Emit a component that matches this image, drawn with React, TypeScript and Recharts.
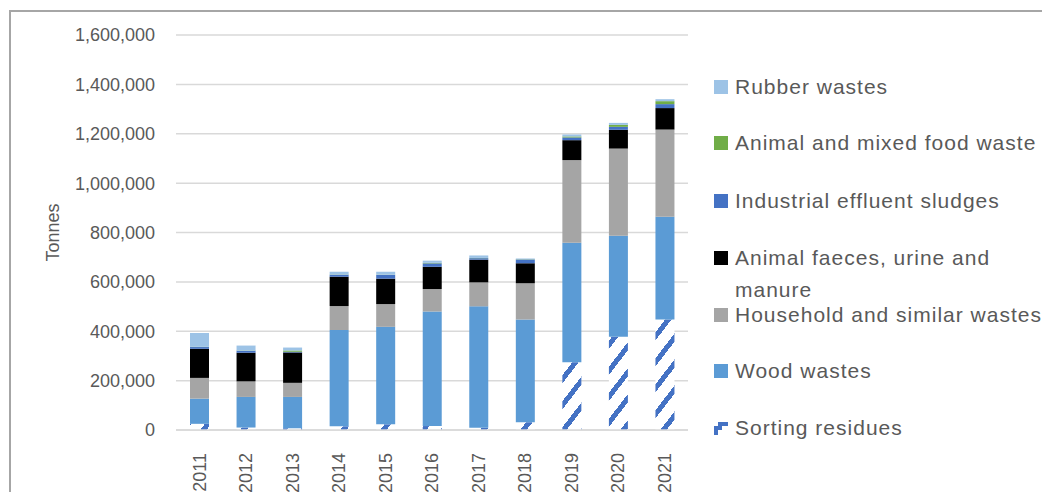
import React from 'react';
import { BarChart, Bar, XAxis, YAxis, CartesianGrid, Label } from 'recharts';

const years = ['2011', '2012', '2013', '2014', '2015', '2016', '2017', '2018', '2019', '2020', '2021'];

// tonnes, stacked bottom to top
const sortingResidues = [25000, 10000, 7000, 15000, 23000, 16000, 9000, 31000, 274000, 378000, 448000];
const woodWastes = [102000, 124000, 127000, 390000, 395000, 464000, 492000, 417000, 484000, 409000, 416000];
const householdWastes = [84000, 63000, 57000, 97000, 92000, 91000, 97000, 146000, 335000, 353000, 353000];
const animalFaeces = [118000, 116000, 123000, 119000, 103000, 90000, 92000, 81000, 81000, 76000, 87000];
const industrialSludges = [7000, 8000, 3000, 8000, 15000, 14000, 6000, 16000, 11000, 12000, 16000];
const animalFoodWaste = [1000, 1000, 5000, 1000, 1000, 2000, 1000, 1000, 4000, 8000, 12000];
const rubberWastes = [56000, 20000, 12000, 11000, 12000, 9000, 10000, 3000, 8000, 8000, 8000];

const yTicks = [0, 200000, 400000, 600000, 800000, 1000000, 1200000, 1400000, 1600000];

const series = [
  { key: 'sorting', name: 'Sorting residues', values: sortingResidues, color: 'url(#sortPat)' },
  { key: 'wood', name: 'Wood wastes', values: woodWastes, color: '#5b9bd5' },
  { key: 'household', name: 'Household and similar wastes', values: householdWastes, color: '#a5a5a5' },
  { key: 'faeces', name: 'Animal faeces, urine and manure', values: animalFaeces, color: '#000000' },
  { key: 'industrial', name: 'Industrial effluent sludges', values: industrialSludges, color: '#4472c4' },
  { key: 'food', name: 'Animal and mixed food waste', values: animalFoodWaste, color: '#70ad47' },
  { key: 'rubber', name: 'Rubber wastes', values: rubberWastes, color: '#9dc3e6' },
];

const data = years.map((year, i) => {
  const row: Record<string, string | number> = { year };
  series.forEach((s) => {
    row[s.key] = s.values[i];
  });
  return row;
});

const FONT = '"Liberation Sans", Arial, sans-serif';
const TEXT = '#595959';

const fmt = (v: number) => v.toLocaleString('en-US');

const YearTick = (props: any) => {
  const { x, y, payload } = props;
  return (
    <text
      x={0}
      y={0}
      transform={`translate(${x},${y + 15}) rotate(-90)`}
      textAnchor="end"
      dy="0.35em"
      fill={TEXT}
      fontSize={18}
      fontFamily={FONT}
    >
      {payload.value}
    </text>
  );
};

const TonnesLabel = (props: any) => {
  const { viewBox } = props;
  const cx = viewBox.x + 45;
  const cy = viewBox.y + viewBox.height / 2;
  return (
    <text
      x={0}
      y={0}
      transform={`translate(${cx},${cy}) rotate(-90)`}
      textAnchor="middle"
      dy="0.35em"
      fill={TEXT}
      fontSize={18}
      fontFamily={FONT}
    >
      Tonnes
    </text>
  );
};

// legend rows, top to bottom (page y centres)
const legendY = [87, 143, 201, 258, 315, 371, 428];

const LegendBox = () => {
  const items = [...series].reverse();
  return (
    <div style={{ position: 'absolute', left: 0, top: 0 }}>
      {items.map((s, i) => (
        <div
          key={s.key}
          style={{
            position: 'absolute',
            left: 706,
            top: legendY[i] - 8 - 16,
            display: 'flex',
            alignItems: 'flex-start',
          }}
        >
          <div style={{ width: 14, height: 14, marginTop: 9, marginRight: 7, flex: 'none' }}>
            {s.key === 'sorting' ? (
              <svg width={14} height={14}>
                <path d="M0,14 L0,5 L4,5 L4,1 L14,1 L14,5 L8,5 L8,9 L4,9 L4,14 Z" fill="#4472c4" />
              </svg>
            ) : (
              <div style={{ width: 14, height: 14, background: s.color }} />
            )}
          </div>
          <div
            style={{
              fontFamily: FONT,
              fontSize: 21,
              lineHeight: '32px',
              color: TEXT,
              letterSpacing: 1,
              whiteSpace: s.key === 'faeces' ? 'normal' : 'nowrap',
              width: s.key === 'faeces' ? 270 : undefined,
            }}
          >
            {s.name}
          </div>
        </div>
      ))}
    </div>
  );
};

export default function App() {
  return (
    <div style={{ position: 'relative', width: 1042, height: 484, overflow: 'hidden' }}>
      <div
        style={{
          position: 'absolute',
          left: 1,
          top: 2,
          width: 1200,
          height: 700,
          borderLeft: '2px solid #a6a6a6',
          borderTop: '2px solid #a6a6a6',
        }}
      />
      <div style={{ position: 'absolute', left: 0, top: 0 }}>
        <BarChart
          width={1042}
          height={484}
          data={data}
          margin={{ top: 27, right: 362, bottom: 0, left: 0 }}
          barSize={19}
          style={{ fontFamily: FONT }}
        >
          <defs>
            <pattern id="sortPat" patternUnits="userSpaceOnUse" width={20} height={26}>
              <rect width={20} height={26} fill="#ffffff" />
              <path
                d="M0,26 L20,0 M-5,6.5 L5,-6.5 M15,32.5 L25,19.5"
                stroke="#4472c4"
                strokeWidth={5}
                shapeRendering="crispEdges"
              />
            </pattern>
          </defs>
          <CartesianGrid vertical={false} stroke="#d9d9d9" strokeWidth={1.5} />
          <XAxis
            dataKey="year"
            height={62}
            tickLine={false}
            axisLine={{ stroke: '#d9d9d9', strokeWidth: 1.5 }}
            tick={<YearTick />}
            interval={0}
          />
          <YAxis
            width={168}
            domain={[0, 1600000]}
            ticks={yTicks}
            tickFormatter={fmt}
            tickLine={false}
            axisLine={false}
            tickSize={0}
            tickMargin={21}
            tick={{ fill: TEXT, fontSize: 18, fontFamily: FONT }}
          >
            <Label content={<TonnesLabel />} />
          </YAxis>
          {series.map((s) => (
            <Bar
              key={s.key}
              dataKey={s.key}
              name={s.name}
              stackId="a"
              fill={s.color}
              isAnimationActive={false}
            />
          ))}
        </BarChart>
      </div>
      <LegendBox />
    </div>
  );
}
